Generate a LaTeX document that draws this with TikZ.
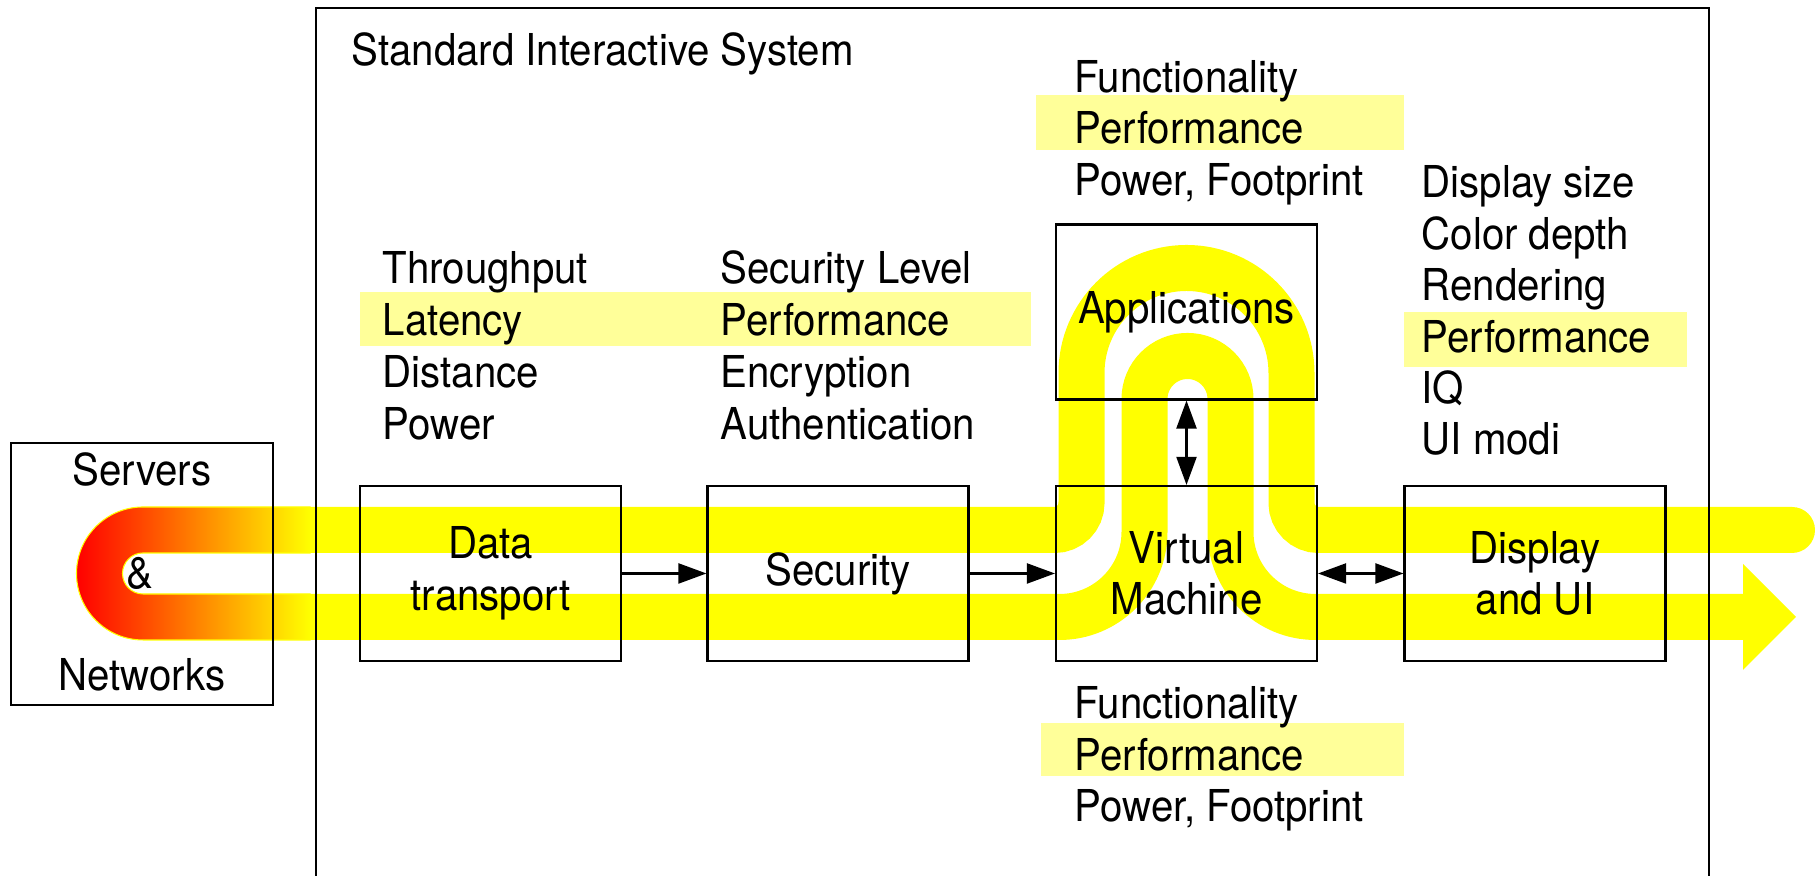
\documentclass[tikz,border=0pt]{standalone}
\usepackage{fontspec}
\setmainfont{TeX Gyre Heros}[FakeStretch=0.915]
\usetikzlibrary{arrows.meta,positioning}
\definecolor{bandyellow}{RGB}{255,255,0}
\definecolor{hiliteyellow}{RGB}{255,255,153}

\begin{document}
\begin{tikzpicture}[
    font=\fontsize{12.5pt}{14.65pt}\selectfont,
    block/.style={rectangle, draw, line width=0.6pt, minimum width=2.61cm, minimum height=1.75cm, align=center, inner sep=0pt},
    lbl/.style={anchor=base west, inner sep=0pt},
    band/.style={draw=bandyellow, line width=0.46cm},
    hilite/.style={fill=hiliteyellow},
    flow/.style={-{Triangle[length=2.8mm,width=2mm]}, line width=0.6pt},
    dflow/.style={{Triangle[length=2.8mm,width=2mm]}-{Triangle[length=2.8mm,width=2mm]}, line width=0.6pt}
  ]

  \useasboundingbox (0,0) rectangle (18.15,8.76);

  % Yellow data paths
  \draw[band, line cap=round] (3.10,3.46) -- (10.545,3.46) arc[start angle=270, end angle=360, radius=0.27]
    -- (10.815,5.03) arc[start angle=180, end angle=0, radius=1.05]
    -- (12.915,3.73) arc[start angle=180, end angle=270, radius=0.27] -- (17.92,3.46);
  \draw[band] (3.10,2.59) -- (10.595,2.59) arc[start angle=270, end angle=360, radius=0.85]
    -- (11.445,4.77) arc[start angle=180, end angle=0, radius=0.43]
    -- (12.305,3.44) arc[start angle=180, end angle=270, radius=0.85] -- (17.45,2.59);
  \fill[bandyellow] (17.43,3.12) -- (17.96,2.59) -- (17.43,2.06) -- cycle;

  % Turn at the servers
  \shadedraw[left color=red, right color=bandyellow, draw=bandyellow, line width=0.3pt]
    (3.10,3.69) -- (1.43,3.69) arc[start angle=90, end angle=270, radius=0.665] -- (3.10,2.36)
    -- (3.10,2.82) -- (1.43,2.82) arc[start angle=270, end angle=90, radius=0.205] -- (3.10,3.23) -- cycle;

  % Highlights
  \fill[hilite] (3.60,5.84) rectangle (10.31,5.30);
  \fill[hilite] (10.36,7.81) rectangle (14.04,7.26);
  \fill[hilite] (10.41,1.53) rectangle (14.04,1.00);
  \fill[hilite] (14.04,5.64) rectangle (16.87,5.09);

  % Frame
  \draw[line width=0.6pt] (3.16,-0.5) |- (17.09,8.68) -- (17.09,-0.5);
  \node[lbl] (title) at (3.51,8.10) {Standard Interactive System};

  % Servers and networks
  \node[block, minimum height=2.62cm, minimum width=2.62cm] (srv) at (1.42,3.02) {};
  \node[anchor=base] (srvtxt) at (1.42,3.905) {Servers};
  \node[anchor=base] (amp) at (1.40,2.87) {\&};
  \node[anchor=base] (nettxt) at (1.42,1.855) {Networks};

  % Blocks
  \node[block] (dt) at (4.905,3.025) {Data\\transport};
  \node[block] (sec) at (8.38,3.025) {Security};
  \node[block] (vm) at (11.865,3.025) {Virtual\\Machine};
  \node[block] (app) at (11.865,5.64) {Applications};
  \node[block] (disp) at (15.35,3.025) {Display\\and UI};

  % Qualities
  \foreach \txt [count=\i from 0] in {Throughput,Latency,Distance,Power}
    \node[lbl] (dtq-\i) at (3.82,5.92-0.52*\i) {\txt};
  \foreach \txt [count=\i from 0] in {Security Level,Performance,Encryption,Authentication}
    \node[lbl] (secq-\i) at (7.20,5.92-0.52*\i) {\txt};
  \foreach \txt [count=\i from 0] in {Functionality,Performance,{Power, Footprint}}
    \node[lbl] (vmtop-\i) at (10.74,7.835-0.515*\i) {\txt};
  \foreach \txt [count=\i from 0] in {Functionality,Performance,{Power, Footprint}}
    \node[lbl] (vmbot-\i) at (10.74,1.57-0.515*\i) {\txt};
  \foreach \txt [count=\i from 0] in {Display size,Color depth,Rendering,Performance,IQ,UI modi}
    \node[lbl] (dispq-\i) at (14.21,6.78-0.514*\i) {\txt};

  % Connections
  \draw[flow] (dt) -- (sec);
  \draw[flow] (sec) -- (vm);
  \draw[dflow] (vm) -- (disp);
  \draw[dflow] (app) -- (vm);

\end{tikzpicture}
\end{document}
